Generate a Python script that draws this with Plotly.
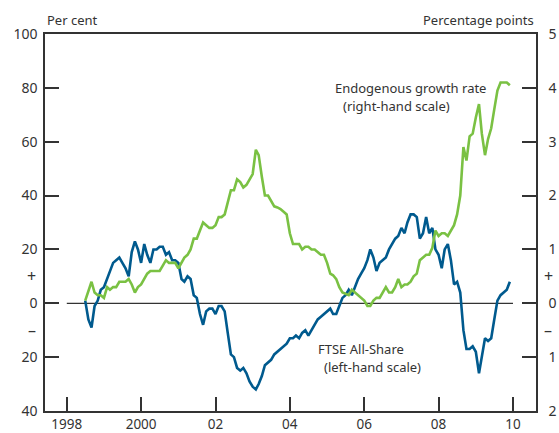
import pandas as pd
import plotly.graph_objects as go

# monthly observations, Jul 1998 - Dec 2009
months = pd.date_range("1998-07-01", "2009-12-01", freq="MS")

# FTSE All-Share, per cent (left-hand scale)
ftse = [
    1, -6, -9, -1, 1, 5, 6, 9, 12, 15, 16, 17, 15, 13, 10, 19, 23, 20,
    15, 22, 18, 15, 20, 20, 21, 21, 18, 19, 16, 16, 15, 9, 8, 10, 9, 3,
    2, -4, -8, -3, -2, -2, -4, -1, -1, -3, -11, -19, -20, -24, -25, -24,
    -26, -29, -31, -32, -30, -27, -23, -22, -21, -19, -18, -17, -16, -15,
    -13, -13, -12, -13, -11, -10, -12, -10, -8, -6, -5, -4, -3, -2, -4, -4,
    -1, 2, 3, 5, 3, 6, 9, 11, 13, 16, 20, 17, 12, 15, 16, 17, 20, 22,
    24, 25, 28, 26, 30, 33, 33, 32, 24, 26, 32, 26, 28, 20, 18, 13, 20, 22,
    16, 7, 8, 4, -10, -17, -17, -16, -18, -26, -20, -13, -14, -13, -6, 1,
    3, 4, 5, 8,
]

# endogenous growth rate, percentage points (right-hand scale)
growth = [
    0.05, 0.25, 0.40, 0.20, 0.15, 0.15, 0.10, 0.30, 0.25, 0.30, 0.30, 0.40,
    0.40, 0.40, 0.45, 0.35, 0.20, 0.30, 0.35, 0.45, 0.55, 0.60, 0.60, 0.60,
    0.60, 0.70, 0.80, 0.75, 0.75, 0.75, 0.65, 0.75, 0.85, 0.90, 1.00, 1.20,
    1.20, 1.35, 1.50, 1.45, 1.40, 1.40, 1.45, 1.60, 1.60, 1.65, 1.85, 2.10,
    2.10, 2.30, 2.25, 2.15, 2.20, 2.30, 2.40, 2.85, 2.75, 2.35, 2.00, 2.00,
    1.90, 1.80, 1.78, 1.75, 1.70, 1.65, 1.30, 1.10, 1.10, 1.10, 1.00, 1.05,
    1.05, 1.00, 1.00, 0.95, 0.90, 0.90, 0.75, 0.55, 0.52, 0.45, 0.30, 0.20,
    0.18, 0.15, 0.25, 0.20, 0.15, 0.10, 0.05, -0.05, -0.05, 0.05, 0.10, 0.10,
    0.20, 0.30, 0.20, 0.20, 0.30, 0.45, 0.30, 0.35, 0.35, 0.40, 0.50, 0.55,
    0.80, 0.85, 0.90, 0.90, 1.03, 1.35, 1.25, 1.30, 1.30, 1.25, 1.35, 1.45,
    1.65, 2.00, 2.90, 2.65, 3.10, 3.15, 3.45, 3.70, 3.15, 2.75, 3.05, 3.25,
    3.60, 3.95, 4.10, 4.10, 4.10, 4.05,
]

x_tickvals = ["1998-01-01", "2000-01-01", "2002-01-01", "2004-01-01",
              "2006-01-01", "2008-01-01", "2010-01-01"]
x_ticktext = ["1998", "2000", "02", "04", "06", "08", "10"]

left_tickvals = [-40, -20, 0, 20, 40, 60, 80, 100]
left_ticktext = ["40", "20", "0", "20", "40", "60", "80", "100"]
right_tickvals = [-2, -1, 0, 1, 2, 3, 4, 5]
right_ticktext = ["2", "1", "0", "1", "2", "3", "4", "5"]

BLUE = "#005a8e"
GREEN = "#7ac143"
INK = "#333333"
FONT = "Noto Sans"

fig = go.Figure()
fig.add_trace(go.Scatter(x=months, y=growth, yaxis="y2", mode="lines",
                         line=dict(color=GREEN, width=2.6)))
fig.add_trace(go.Scatter(x=months, y=ftse, mode="lines",
                         line=dict(color=BLUE, width=2.6)))

# zero line runs between the first and last year ticks
fig.add_shape(type="line", xref="x", yref="y",
              x0=x_tickvals[0], x1=x_tickvals[-1], y0=0, y1=0,
              line=dict(color=INK, width=1.3), layer="below")

axis_common = dict(showgrid=False, zeroline=False, showline=True,
                   linecolor=INK, linewidth=1.5, ticks="inside", ticklen=14,
                   tickwidth=1.5, tickcolor=INK, automargin=False,
                   tickfont=dict(family=FONT, size=14, color=INK))

fig.update_layout(
    width=559, height=433,
    margin=dict(l=45, r=23, t=34, b=22),
    paper_bgcolor="white", plot_bgcolor="white",
    showlegend=False,
    font=dict(family=FONT, size=13, color=INK),
    xaxis=dict(**axis_common, type="date",
               range=["1997-06-01", "2010-08-15"],
               tickvals=x_tickvals, ticktext=x_ticktext,
               mirror=True, ticklabelstandoff=0),
    yaxis=dict(**axis_common, range=[-40, 100],
               tickvals=left_tickvals, ticktext=left_ticktext,
               ticklabelstandoff=3),
    yaxis2=dict(**axis_common, range=[-2, 5], overlaying="y", side="right",
                tickvals=right_tickvals, ticktext=right_ticktext,
                ticklabelstandoff=8),
)
fig.update_xaxes(tickfont_size=13.5)

# sign markers between the tick labels
for yv, txt in [(10, "+"), (-10, "\u2013")]:
    fig.add_annotation(xref="paper", yref="y", x=0, y=yv, text=txt,
                       showarrow=False, xanchor="right", xshift=-7,
                       font=dict(family=FONT, size=16, color=INK))
for yv, txt in [(0.5, "+"), (-0.5, "\u2013")]:
    fig.add_annotation(xref="paper", yref="y2", x=1, y=yv, text=txt,
                       showarrow=False, xanchor="left", xshift=6,
                       font=dict(family=FONT, size=16, color=INK))

fig.add_annotation(xref="paper", yref="paper", x=0, y=1, yshift=14,
                   text="Per cent", showarrow=False, xanchor="left",
                   yanchor="middle", font=dict(family=FONT, size=13, color=INK))
fig.add_annotation(xref="paper", yref="paper", x=1, y=1, yshift=14,
                   text="Percentage points", showarrow=False, xanchor="right",
                   yanchor="middle", font=dict(family=FONT, size=13, color=INK))

labels = [
    ("Endogenous growth rate", 0.587, 0.857),
    ("(right-hand scale)", 0.603, 0.809),
    ("FTSE All-Share", 0.552, 0.164),
    ("(left-hand scale)", 0.564, 0.117),
]
for txt, lx, ly in labels:
    fig.add_annotation(xref="paper", yref="paper", x=lx, y=ly, text=txt,
                       showarrow=False, xanchor="left", yanchor="middle",
                       font=dict(family=FONT, size=13, color=INK))

fig.write_html("out.html", config={"displayModeBar": False},
               post_script="document.body.style.margin='0';")
